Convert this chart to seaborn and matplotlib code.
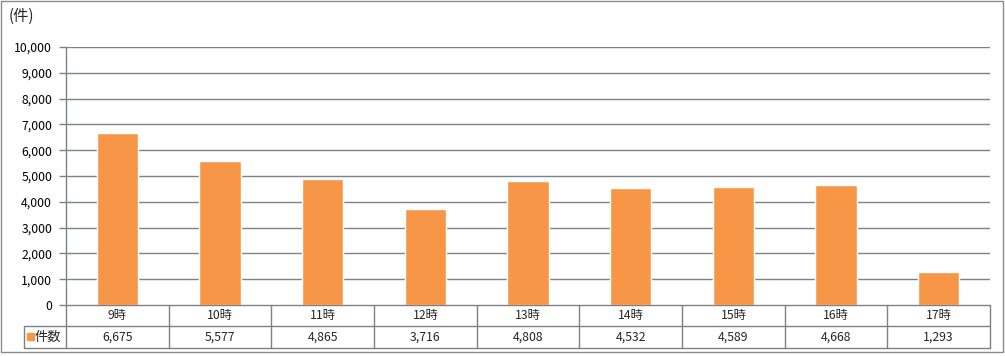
import matplotlib
matplotlib.use("Agg")
import matplotlib.pyplot as plt
import seaborn as sns
import pandas as pd
from matplotlib.lines import Line2D
from matplotlib.patches import Rectangle

categories = ["9時", "10時", "11時", "12時", "13時", "14時", "15時", "16時", "17時"]
counts = [6675, 5577, 4865, 3716, 4808, 4532, 4589, 4668, 1293]
series_name = "件数"
unit_label = "(件)"
yticks = list(range(0, 10001, 1000))

sns.set_theme(style="white")
plt.rcParams['font.family'] = ['Noto Sans CJK JP', 'DejaVu Sans']

W, H = 1005, 356
fig = plt.figure(figsize=(W / 100, H / 100), dpi=100)
fig.patch.set_facecolor("white")

x0, x1 = 66, 990
ytop, ybot = 47, 305
ax = fig.add_axes([x0 / W, 1 - ybot / H, (x1 - x0) / W, (ybot - ytop) / H])

df = pd.DataFrame({"cat": categories, "val": counts})
sns.barplot(data=df, x="cat", y="val", color="#F79646", saturation=1, width=0.4, ax=ax)

fs = 8.8
ax.set_ylim(0, 10000)
ax.set_yticks(yticks)
ax.set_yticklabels([f"{v:,}" for v in yticks], fontsize=fs, color="black")
ax.set_xticks([])
ax.set_xlabel("")
ax.set_ylabel("")
grid_c = "#7f8088"
for v in yticks[1:]:
    ax.axhline(v, color=grid_c, lw=1, zorder=0)
for s in ["top", "right", "bottom"]:
    ax.spines[s].set_visible(False)
ax.spines["left"].set_color(grid_c)
ax.spines["left"].set_linewidth(1)
ax.tick_params(axis="y", length=5, width=1, color=grid_c, pad=5, left=True)
ax.set_axisbelow(True)

# data table below the axes
def fx(px):
    return px / W
def fy(py):
    return 1 - py / H

r0, r1, r2 = 305, 326, 348
leg_x = 24
lc = "#808080"
lines = []
lines.append(((x0, r0), (x1, r0)))
lines.append(((leg_x, r1), (x1, r1)))
lines.append(((leg_x, r2), (x1, r2)))
lines.append(((leg_x, r1), (leg_x, r2)))
lines.append(((x0, r0), (x0, r2)))
cw = (x1 - x0) / len(categories)
for i in range(1, len(categories) + 1):
    xx = x0 + cw * i
    lines.append(((xx, r0), (xx, r2)))
for (a, b) in lines:
    fig.add_artist(Line2D([fx(a[0]), fx(b[0])], [fy(a[1]), fy(b[1])], color=lc, lw=1))

for i, (c, v) in enumerate(zip(categories, counts)):
    cx = x0 + cw * (i + 0.5)
    fig.text(fx(cx), fy((r0 + r1) / 2), c, ha="center", va="center", fontsize=fs)
    fig.text(fx(cx), fy((r1 + r2) / 2), f"{v:,}", ha="center", va="center", fontsize=fs)

fig.add_artist(Rectangle((fx(27), fy(340)), 7 / W, 7 / H, color="#F79646", transform=fig.transFigure))
fig.text(fx(35), fy((r1 + r2) / 2), series_name, ha="left", va="center", fontsize=9.5)

fig.text(fx(9), fy(16), unit_label, ha="left", va="center", fontsize=11)

# outer frame
fig.add_artist(Rectangle((fx(1), fy(352)), 1002 / W, 351 / H, fill=False, edgecolor="#8c8c8c", lw=1, transform=fig.transFigure))

fig.savefig("out.png", dpi=100)
